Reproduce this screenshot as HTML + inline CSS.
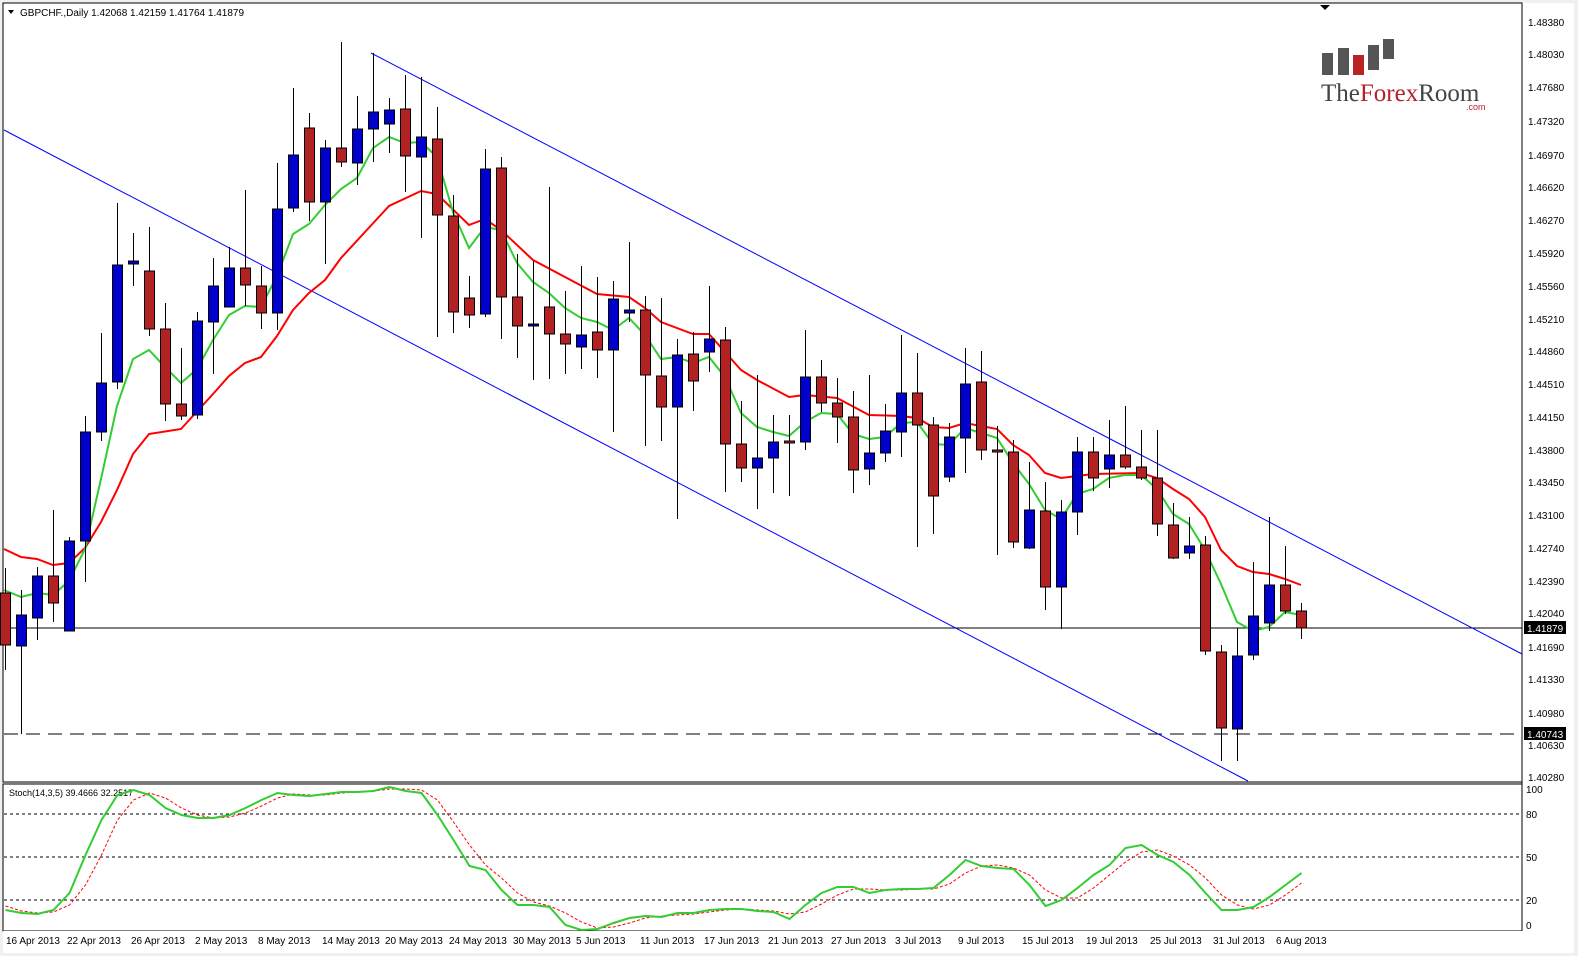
<!DOCTYPE html>
<html><head><meta charset="utf-8"><style>
html,body{margin:0;padding:0;background:#fff;}
svg{display:block;font-family:"Liberation Sans",sans-serif;}
</style></head><body>
<svg id="c" width="1578" height="956" viewBox="0 0 1578 956" xmlns="http://www.w3.org/2000/svg">
<rect x="0" y="0" width="1578" height="956" fill="#f0f0f0"/>
<rect x="3" y="3" width="1519" height="779" fill="#fff" stroke="#000" stroke-width="1"/>
<rect x="3" y="784" width="1519" height="147" fill="#fff" stroke="#000" stroke-width="1"/>
<rect x="1522" y="3" width="52" height="928" fill="#fff"/>
<line x1="1522" y1="3" x2="1522" y2="931" stroke="#000"/>
<rect x="3" y="931" width="1571" height="22" fill="#fff"/>
<polygon points="1320,5 1330,5 1325,10" fill="#000"/>
<g id="logo">
<rect x="1322" y="53" width="11" height="22" fill="#555"/>
<rect x="1338" y="48" width="11" height="27" fill="#555"/>
<rect x="1353" y="55" width="11" height="20" fill="#b22"/>
<rect x="1368" y="45" width="11" height="25" fill="#555"/>
<rect x="1383" y="39" width="11" height="20" fill="#555"/>
<text x="1321" y="101" font-family="Liberation Serif,serif" font-size="25" fill="#444">The<tspan fill="#b52126">Forex</tspan>Room</text>
<text x="1466" y="110" font-size="9" fill="#b52126">.com</text>
</g>
<text x="20" y="16" font-size="10" fill="#000">GBPCHF.,Daily  1.42068 1.42159 1.41764 1.41879</text>
<polygon points="8,10 14,10 11,14" fill="#000"/>
<g id="grid"></g>
<line x1="4" y1="628" x2="1522" y2="628" stroke="#000"/>
<line x1="4" y1="734" x2="1522" y2="734" stroke="#000" stroke-dasharray="14,8"/>
<line x1="371" y1="53" x2="1522" y2="654" stroke="#0000ff"/>
<line x1="4" y1="130" x2="1248" y2="781" stroke="#0000ff"/>
<g id="ma"></g>
<g id="candles"></g>
<g font-size="10" fill="#000">
<text x="1528" y="26">1.48380</text><text x="1528" y="58">1.48030</text><text x="1528" y="91">1.47680</text>
<text x="1528" y="125">1.47320</text><text x="1528" y="159">1.46970</text><text x="1528" y="191">1.46620</text>
<text x="1528" y="224">1.46270</text><text x="1528" y="257">1.45920</text><text x="1528" y="290">1.45560</text>
<text x="1528" y="323">1.45210</text><text x="1528" y="355">1.44860</text><text x="1528" y="388">1.44510</text>
<text x="1528" y="421">1.44150</text><text x="1528" y="454">1.43800</text><text x="1528" y="486">1.43450</text>
<text x="1528" y="519">1.43100</text><text x="1528" y="552">1.42740</text><text x="1528" y="585">1.42390</text>
<text x="1528" y="617">1.42040</text><text x="1528" y="651">1.41690</text><text x="1528" y="683">1.41330</text>
<text x="1528" y="717">1.40980</text><text x="1528" y="749">1.40630</text><text x="1528" y="781">1.40280</text>
</g>
<rect x="1524" y="621" width="42" height="13" fill="#000"/><text x="1527" y="632" font-size="10" fill="#fff">1.41879</text>
<rect x="1524" y="727" width="42" height="13" fill="#000"/><text x="1527" y="738" font-size="10" fill="#fff">1.40743</text>
<g stroke="#000" stroke-dasharray="3,3">
<line x1="4" y1="814" x2="1522" y2="814"/><line x1="4" y1="857" x2="1522" y2="857"/><line x1="4" y1="900" x2="1522" y2="900"/>
</g>
<g font-size="10" fill="#000">
<text x="1526" y="793">100</text><text x="1526" y="818">80</text><text x="1526" y="861">50</text><text x="1526" y="904">20</text><text x="1526" y="929">0</text>
</g>
<text x="9" y="796" font-size="9" fill="#000">Stoch(14,3,5) 39.4666 32.2517</text>
<g id="stoch"></g>
<g font-size="10" fill="#000">
<text x="6" y="944">16 Apr 2013</text><text x="67" y="944">22 Apr 2013</text><text x="131" y="944">26 Apr 2013</text>
<text x="195" y="944">2 May 2013</text><text x="258" y="944">8 May 2013</text><text x="322" y="944">14 May 2013</text>
<text x="385" y="944">20 May 2013</text><text x="449" y="944">24 May 2013</text><text x="513" y="944">30 May 2013</text>
<text x="576" y="944">5 Jun 2013</text><text x="640" y="944">11 Jun 2013</text><text x="704" y="944">17 Jun 2013</text>
<text x="768" y="944">21 Jun 2013</text><text x="831" y="944">27 Jun 2013</text><text x="895" y="944">3 Jul 2013</text>
<text x="958" y="944">9 Jul 2013</text><text x="1022" y="944">15 Jul 2013</text><text x="1086" y="944">19 Jul 2013</text>
<text x="1150" y="944">25 Jul 2013</text><text x="1213" y="944">31 Jul 2013</text><text x="1276" y="944">6 Aug 2013</text>
</g>
</svg>
<script>
var NS="http://www.w3.org/2000/svg";
function el(p,t,a){var e=document.createElementNS(NS,t);for(var k in a)e.setAttribute(k,a[k]);p.appendChild(e);return e;}
// [wickTop, bodyTop, bodyBottom, wickBottom, color r/b]
var D=[[568,593,645,670,'r'],[590,615,646,734,'b'],[567,576,618,640,'b'],[510,576,603,622,'r'],[537,541,631,631,'b'],
[416,432,541,582,'b'],[333,383,432,441,'b'],[203,265,382,389,'b'],[233,261,264,286,'b'],[227,271,329,336,'r'],
[303,329,404,421,'r'],[348,404,416,420,'r'],[312,321,415,419,'b'],[258,286,322,374,'b'],[247,268,307,307,'b'],
[190,268,285,306,'r'],[266,286,313,329,'r'],[163,209,313,330,'b'],[88,155,208,212,'b'],[113,128,202,221,'r'],
[140,148,202,264,'b'],[42,148,162,167,'r'],[96,129,163,185,'b'],[53,112,129,162,'b'],[98,110,124,153,'b'],
[75,109,156,192,'r'],[77,137,157,238,'b'],[107,139,215,337,'r'],[195,216,312,333,'r'],[276,298,315,328,'r'],
[149,169,314,317,'b'],[157,168,297,339,'r'],[254,297,326,358,'r'],[261,324,326,380,'b'],[187,307,334,379,'r'],
[291,334,344,374,'r'],[266,335,347,369,'b'],[277,332,350,378,'r'],[281,299,350,432,'b'],[242,310,313,322,'b'],
[296,310,375,446,'r'],[298,376,407,441,'r'],[339,355,407,519,'b'],[332,354,381,411,'r'],[286,339,352,372,'b'],
[327,340,444,492,'r'],[401,444,468,482,'r'],[375,458,468,509,'b'],[415,442,458,493,'b'],[415,441,443,496,'r'],
[330,377,442,450,'b'],[360,377,403,412,'r'],[378,403,417,443,'r'],[391,417,470,493,'r'],[375,453,469,485,'b'],
[404,431,453,462,'b'],[335,393,432,457,'b'],[353,393,425,547,'r'],[417,425,496,534,'r'],[423,437,477,482,'b'],
[348,384,438,473,'b'],[351,382,450,460,'r'],[426,450,451,555,'r'],[440,452,542,548,'r'],[462,510,548,549,'b'],
[482,511,587,610,'r'],[500,512,587,629,'b'],[437,452,512,535,'b'],[437,452,478,491,'r'],[420,455,469,488,'b'],
[406,455,467,469,'r'],[430,467,478,480,'r'],[430,478,524,536,'r'],[503,525,558,559,'r'],[517,546,553,559,'b'],
[536,545,651,655,'r'],[645,652,728,761,'r'],[628,656,729,761,'b'],[562,616,655,660,'b'],[517,585,623,631,'b'],
[546,585,611,614,'r'],[603,611,628,639,'r']];
var cg=document.getElementById('candles');
D.forEach(function(d,i){var x=5.5+16*i;
el(cg,'line',{x1:x,y1:d[0],x2:x,y2:d[3],stroke:'#000','stroke-width':1});
var h=Math.max(d[2]-d[1],2);
el(cg,'rect',{x:x-5,y:d[1],width:10,height:h,fill:d[4]=='r'?'#b22222':'#0000cd',stroke:'#000','stroke-width':1});
});
var RED=[[4,549],[21,557],[37,559],[53,565],[69,563],[85,548],[101,522],[117,490],[133,454],[149,434],[181,429],[213,394],[229,376],[245,363],[261,357],[277,336],[293,310],[309,293],[325,280],[341,258],[389,206],[421,191],[437,194],[469,225],[485,219],[501,230],[533,260],[565,277],[597,294],[629,297],[645,308],[661,322],[693,334],[709,334],[741,370],[757,380],[789,397],[805,395],[837,398],[869,415],[901,416],[917,418],[933,427],[949,428],[965,423],[997,429],[1013,445],[1029,455],[1045,473],[1061,478],[1077,476],[1093,474],[1141,473],[1157,478],[1173,489],[1189,499],[1205,517],[1221,550],[1237,566],[1253,572],[1269,574],[1285,579],[1301,585]];
var GRN=[[4,590],[21,597],[37,593],[53,595],[69,581],[85,549],[101,479],[117,406],[133,359],[149,350],[165,367],[181,383],[197,369],[213,340],[229,315],[245,306],[261,307],[277,276],[293,234],[309,224],[325,205],[341,189],[357,178],[373,148],[389,137],[405,143],[421,142],[437,157],[453,212],[469,248],[485,227],[501,230],[517,263],[533,282],[549,293],[565,308],[581,318],[597,322],[613,330],[629,318],[645,335],[661,359],[677,357],[693,363],[709,357],[725,377],[741,413],[757,427],[773,432],[789,436],[805,422],[821,413],[837,414],[853,434],[869,439],[885,437],[901,423],[917,422],[933,444],[949,445],[965,428],[981,433],[997,438],[1013,463],[1029,484],[1045,510],[1061,519],[1077,494],[1093,489],[1109,478],[1125,475],[1141,475],[1157,489],[1173,514],[1189,524],[1205,550],[1221,584],[1237,622],[1253,631],[1269,627],[1285,612],[1301,615]];
function pl(g,pts,col,w,dash){var a={points:pts.map(function(p){return p.join(',')}).join(' '),fill:'none',stroke:col,'stroke-width':w};if(dash)a['stroke-dasharray']=dash;el(g,'polyline',a);}
var mg=document.getElementById('ma');pl(mg,RED,'#ff0000',2);pl(mg,GRN,'#32cd32',2);
var X=[],S=[910,913,914,910,893,855,820,795,790,795,808,815,818,818,815,808,800,793,795,796,794,792,792,791,787,791,793,815,840,866,870,890,905,905,907,925,930,929,923,918,916,917,913,913,910,909,909,911,912,919,905,893,887,887,893,890,889,889,888,875,860,866,868,869,885,906,900,888,875,865,848,845,855,862,875,893,910,910,907,897,885,873];
var G=[906,911,913,912,905,885,855,820,800,793,798,808,815,818,817,813,806,798,794,795,795,793,792,791,789,789,790,800,822,845,865,878,893,902,906,913,922,928,927,923,918,916,915,914,912,910,909,910,911,914,912,904,895,889,889,890,890,889,889,884,873,866,865,868,875,890,898,898,888,875,862,852,850,856,865,878,895,905,909,905,895,883];
var sg=document.getElementById('stoch');
pl(sg,G.map(function(v,i){return[5.5+16*i,v]}),'#ff0000',1,'3,2');
pl(sg,S.map(function(v,i){return[5.5+16*i,v]}),'#32cd32',2);
</script>
</body></html>
